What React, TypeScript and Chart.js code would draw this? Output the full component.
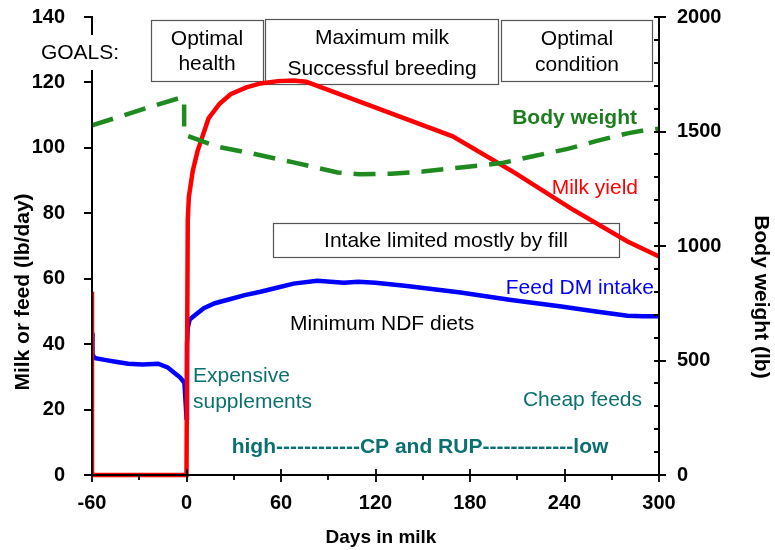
import { useEffect, useRef } from 'react';
import { Chart, registerables } from 'chart.js';

Chart.register(...registerables);

const FONT = '"Liberation Sans", Arial, Helvetica, sans-serif';

// Axis ticks
const xMajorTicks = [-60, 0, 60, 120, 180, 240, 300];
const xMinorTicks = [-30, 30, 90, 150, 210, 270];
const leftMajorTicks = [0, 20, 40, 60, 80, 100, 120, 140];
const rightMajorTicks = [0, 500, 1000, 1500, 2000];
const rightMinorTicks = [100, 200, 300, 400, 600, 700, 800, 900, 1100, 1200, 1300, 1400, 1600, 1700, 1800, 1900];

// Milk yield (lb/day), left axis
const milkDays = [-60, -60, 0, 0.8, 1.5, 4, 7, 14, 21, 28, 38, 47, 58, 68, 76, 81, 169, 208, 244, 280, 300];
const milkYield = [56, 0, 0, 78, 85, 93, 99, 109, 113.5, 116.4, 118.5, 119.7, 120.4, 120.6, 120.2, 119.3, 103.5, 92.5, 81.5, 71.4, 66.8];

// Feed DM intake (lb/day), left axis
const feedDays = [-60, -59.7, -58.5, -52, -45, -37, -28, -18, -12, -8, -4, -1.3, 0, 0.3, 0.8, 2, 5.7, 11, 18, 28, 37, 47, 58, 68, 83, 100, 109, 120, 140, 174, 205, 238, 260, 280, 290, 300];
const feedIntake = [43.5, 37, 35.8, 35.2, 34.6, 34, 33.8, 34, 32.9, 31.3, 29.8, 28.2, 17.5, 40, 45, 47.5, 49, 51, 52.5, 53.8, 55, 56, 57.3, 58.5, 59.4, 58.8, 59.1, 58.8, 57.8, 55.8, 53.6, 51.5, 50, 48.7, 48.5, 48.5];

// Body weight (lb), right axis
const bwDays = [-60, -40, -23, -5, -1.5, -1.5, 1, 20, 41, 68, 96, 110, 130, 150, 174, 200, 220, 242, 260, 280, 289, 300];
const bodyWeight = [1527, 1570, 1608, 1645, 1643, 1490, 1480, 1433, 1405, 1365, 1321, 1313, 1316, 1325, 1343, 1362, 1392, 1424, 1458, 1492, 1503, 1512];

const pts = (xs: number[], ys: number[]) => xs.map((x, i) => ({ x, y: ys[i] }));

const TEAL = '#0c7070';

function txt(ctx: CanvasRenderingContext2D, s: string, x: number, y: number, font: string, color: string, align: CanvasTextAlign = 'center') {
  ctx.save();
  ctx.font = font;
  ctx.fillStyle = color;
  ctx.textAlign = align;
  ctx.textBaseline = 'middle';
  ctx.fillText(s, x, y);
  ctx.restore();
}

function box(ctx: CanvasRenderingContext2D, x0: number, y0: number, x1: number, y1: number) {
  ctx.save();
  ctx.fillStyle = '#ffffff';
  ctx.fillRect(x0, y0, x1 - x0, y1 - y0);
  ctx.strokeStyle = '#555555';
  ctx.lineWidth = 1.2;
  ctx.strokeRect(x0 + 0.5, y0 + 0.5, x1 - x0, y1 - y0);
  ctx.restore();
}

const decor = {
  id: 'decor',
  beforeDatasetsDraw(chart: any) {
    const ctx = chart.ctx as CanvasRenderingContext2D;
    const f = `21px ${FONT}`;
    box(ctx, 151, 20, 263, 81);
    txt(ctx, 'Optimal', 207, 39, f, '#000');
    txt(ctx, 'health', 207, 64, f, '#000');
    box(ctx, 265, 19, 498, 84);
    txt(ctx, 'Maximum milk', 382, 38, f, '#000');
    txt(ctx, 'Successful breeding', 382, 69, f, '#000');
    box(ctx, 501, 20, 652, 81);
    txt(ctx, 'Optimal', 577, 39, f, '#000');
    txt(ctx, 'condition', 577, 65, f, '#000');
    box(ctx, 273, 223, 619, 257);
    txt(ctx, 'Intake limited mostly by fill', 446, 241, f, '#000');
  },
  afterDraw(chart: any) {
    const ctx = chart.ctx as CanvasRenderingContext2D;
    const xs = chart.scales.x;
    const yl = chart.scales.y;
    const yr = chart.scales.y2;
    const a = chart.chartArea;
    ctx.save();
    ctx.strokeStyle = '#000';
    ctx.lineWidth = 2;
    ctx.beginPath();
    // left axis (interrupted by GOALS:)
    ctx.moveTo(a.left, a.top - 1);
    ctx.lineTo(a.left, 35);
    ctx.moveTo(a.left, 70);
    ctx.lineTo(a.left, a.bottom);
    // right axis
    ctx.moveTo(a.right, a.top - 1);
    ctx.lineTo(a.right, a.bottom);
    // bottom axis
    ctx.moveTo(a.left, a.bottom);
    ctx.lineTo(a.right, a.bottom);
    ctx.stroke();

    ctx.lineWidth = 1.8;
    ctx.beginPath();
    for (const v of leftMajorTicks) {
      const py = Math.round(yl.getPixelForValue(v));
      ctx.moveTo(a.left - 8, py);
      ctx.lineTo(a.left, py);
    }
    for (const v of rightMajorTicks) {
      const py = Math.round(yr.getPixelForValue(v));
      ctx.moveTo(a.right - 5, py);
      ctx.lineTo(a.right + 7, py);
    }
    for (const v of rightMinorTicks) {
      const py = Math.round(yr.getPixelForValue(v));
      ctx.moveTo(a.right - 5, py);
      ctx.lineTo(a.right, py);
    }
    for (const v of xMajorTicks) {
      const px = Math.round(xs.getPixelForValue(v));
      ctx.moveTo(px, a.bottom - 6);
      ctx.lineTo(px, a.bottom + 7);
    }
    for (const v of xMinorTicks) {
      const px = Math.round(xs.getPixelForValue(v));
      ctx.moveTo(px, a.bottom);
      ctx.lineTo(px, a.bottom + 5);
    }
    ctx.stroke();
    ctx.restore();

    const f = `21px ${FONT}`;
    const fb = `bold 21px ${FONT}`;
    txt(ctx, 'GOALS:', 80, 53, f, '#000');
    txt(ctx, 'Body weight', 637, 118, fb, '#1e7d1e', 'right');
    txt(ctx, 'Milk yield', 638, 188, f, '#ff0000', 'right');
    txt(ctx, 'Feed DM intake', 654, 288, f, '#0000ff', 'right');
    txt(ctx, 'Minimum NDF diets', 290, 324, f, '#000', 'left');
    txt(ctx, 'Expensive', 193, 376, f, TEAL, 'left');
    txt(ctx, 'supplements', 193, 402, f, TEAL, 'left');
    txt(ctx, 'Cheap feeds', 642, 400, f, TEAL, 'right');
    txt(ctx, 'high------------CP and RUP-------------low', 420, 447, fb, TEAL, 'center');

    // axis titles
    const ft = `bold 21px ${FONT}`;
    ctx.save();
    ctx.translate(23, 292);
    ctx.rotate(-Math.PI / 2);
    txt(ctx, 'Milk or feed (lb/day)', 0, 0, ft, '#000');
    ctx.restore();
    ctx.save();
    ctx.translate(761, 297);
    ctx.rotate(Math.PI / 2);
    txt(ctx, 'Body weight (lb)', 0, 0, ft, '#000');
    ctx.restore();
    txt(ctx, 'Days in milk', 381, 538, `bold 19px ${FONT}`, '#000');
  },
};

const CLIP = { left: 0, top: 8, right: 8, bottom: 8 };

export default function App() {
  const ref = useRef<HTMLCanvasElement>(null);
  useEffect(() => {
    if (!ref.current) return;
    const tickFont = { family: FONT, size: 20, weight: 'bold' as const };
    const plain = (v: any) => String(v);
    const chart = new Chart(ref.current, {
      type: 'line',
      data: {
        datasets: [
          {
            label: 'Body weight',
            data: pts(bwDays, bodyWeight),
            yAxisID: 'y2',
            borderColor: '#1f8a1f',
            borderWidth: 4.5,
            borderDash: [22, 12],
            pointRadius: 0,
            tension: 0,
            clip: CLIP,
          } as any,
          {
            label: 'Milk yield',
            data: pts(milkDays, milkYield),
            yAxisID: 'y',
            borderColor: '#ff0000',
            borderWidth: 4.5,
            pointRadius: 0,
            tension: 0,
            clip: CLIP,
          } as any,
          {
            label: 'Feed DM intake',
            data: pts(feedDays, feedIntake),
            yAxisID: 'y',
            borderColor: '#0000ff',
            borderWidth: 4.5,
            pointRadius: 0,
            tension: 0,
            clip: CLIP,
          } as any,
        ],
      },
      options: {
        responsive: false,
        animation: false,
        devicePixelRatio: 1,
        layout: { padding: { top: 17, left: 0, right: 0, bottom: 0 } },
        plugins: { legend: { display: false }, tooltip: { enabled: false } },
        scales: {
          x: {
            type: 'linear',
            min: -60,
            max: 300,
            afterFit: (s: any) => { s.height = 75; s.paddingLeft = 0; s.paddingRight = 0; },
            afterBuildTicks: (s: any) => { s.ticks = xMajorTicks.map((v) => ({ value: v })); },
            ticks: { font: tickFont, color: '#000', padding: 16, maxRotation: 0, autoSkip: false, callback: plain },
            grid: { display: false, drawTicks: false, tickLength: 0 },
            border: { display: false },
          },
          y: {
            type: 'linear',
            position: 'left',
            min: 0,
            max: 140,
            afterFit: (s: any) => { s.width = 92; s.paddingTop = 0; s.paddingBottom = 0; },
            afterBuildTicks: (s: any) => { s.ticks = leftMajorTicks.map((v) => ({ value: v })); },
            ticks: { font: tickFont, color: '#000', padding: 27, autoSkip: false, callback: plain },
            grid: { display: false, drawTicks: false, tickLength: 0 },
            border: { display: false },
          },
          y2: {
            type: 'linear',
            position: 'right',
            min: 0,
            max: 2000,
            afterFit: (s: any) => { s.width = 116; s.paddingTop = 0; s.paddingBottom = 0; },
            afterBuildTicks: (s: any) => { s.ticks = rightMajorTicks.map((v) => ({ value: v })); },
            ticks: { font: tickFont, color: '#000', padding: 18, autoSkip: false, callback: plain },
            grid: { display: false, drawTicks: false, tickLength: 0 },
            border: { display: false },
          },
        },
      } as any,
      plugins: [decor],
    });
    return () => chart.destroy();
  }, []);
  return (
    <div style={{ position: 'absolute', left: 0, top: 0, width: 775, height: 550, background: '#fff' }}>
      <canvas ref={ref} width={775} height={550} style={{ display: 'block' }} />
    </div>
  );
}
